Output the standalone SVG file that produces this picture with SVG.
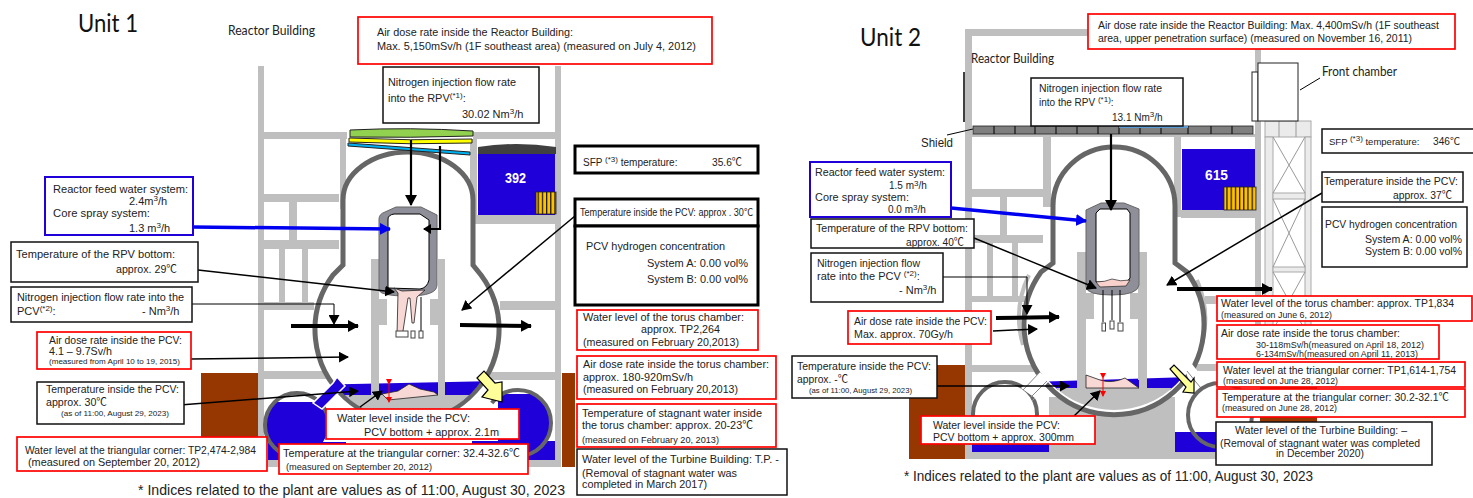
<svg xmlns="http://www.w3.org/2000/svg" width="1473" height="498" viewBox="0 0 1473 498">
<style>
text{font-family:"Liberation Sans","Noto Sans CJK JP",sans-serif;font-size:11px;fill:#222}
.s{font-size:8px}.m{font-size:10px}.n{font-size:9px}.f{font-size:9.5px}
.lato{font-family:Lato,"Liberation Sans",sans-serif;font-size:12.5px}
.ttl{font-family:Lato,"Liberation Sans",sans-serif;font-size:25px;fill:#111}
.foot{font-size:15px}
.num{font-size:15px;font-weight:bold;fill:#fff;font-family:"Liberation Sans",sans-serif}
.w{fill:#bfbfbf}.blue{fill:#2000d8}.brown{fill:#963600}
.pcv{fill:#fff;stroke:#666;stroke-width:5}
.halo{fill:none;stroke:#bfbfbf;stroke-width:4}
.rpv{fill:#8f8f99;stroke:#666;stroke-width:1}
.in{fill:#fff;stroke:#000;stroke-width:1}
.pink{fill:#f8d8d4;stroke:#222;stroke-width:.8}
.crd{fill:#fff;stroke:#444;stroke-width:1}
.yl{fill:#ffff99;stroke:#000;stroke-width:1.2}
.tw{fill:#ebebeb;stroke:#aaa;stroke-width:1}
.x{stroke:#999;stroke-width:1;fill:none}
.fuel{fill:url(#st);stroke:#222;stroke-width:.8}
.rb,.kb,.bb,.kk{fill:#fff}
.rb{stroke:#f00;stroke-width:1.7}
.kb{stroke:#111;stroke-width:1.5}
.kk{stroke:#000;stroke-width:3}
.bb{stroke:#2000d8;stroke-width:2}
.c{fill:none;stroke:#000;stroke-width:1.5}
.cs{fill:none;stroke:#000;stroke-width:1}
.ct{fill:none;stroke:#000;stroke-width:4}
.cb{fill:none;stroke:#0000f0;stroke-width:3.5}
.cr{fill:none;stroke:#f00;stroke-width:1}
.a{marker-end:url(#ah)}.al{marker-end:url(#ahl)}.ab{marker-end:url(#ahb)}
</style>
<defs>
<pattern id="st" width="4.2" height="10" patternUnits="userSpaceOnUse"><rect width="4.2" height="10" fill="#ffc000"/><rect width="1.2" height="10" fill="#111"/></pattern>
<marker id="ah" markerUnits="userSpaceOnUse" markerWidth="10" markerHeight="11" refX="9" refY="5.5" orient="auto"><path d="M0,0L10,5.5L0,11z"/></marker>
<marker id="ahl" markerUnits="userSpaceOnUse" markerWidth="11" markerHeight="12" refX="10" refY="6" orient="auto"><path d="M0,0L11,6L0,12z"/></marker>
<marker id="ahb" markerUnits="userSpaceOnUse" markerWidth="11" markerHeight="12" refX="10" refY="6" orient="auto"><path d="M0,0L11,6L0,12z" fill="#0000f0"/></marker>
<marker id="ahr" markerUnits="userSpaceOnUse" markerWidth="6" markerHeight="6" refX="5" refY="3" orient="auto"><path d="M0,0L6,3L0,6z" fill="#f00"/></marker>
<clipPath id="c1"><circle cx="407" cy="330" r="90"/></clipPath>
<clipPath id="c1l"><circle cx="297" cy="425" r="31"/><rect x="268" y="442" width="78" height="18"/></clipPath>
<clipPath id="c1r"><circle cx="518" cy="423" r="32"/></clipPath>
<clipPath id="c2"><circle cx="1114" cy="322" r="88"/></clipPath>
</defs>

<g id="unit1-structure">
<rect class="w" x="258" y="66" width="6" height="401"/><rect class="w" x="555" y="66" width="6" height="401"/>
<rect class="w" x="264" y="132" width="83" height="7"/><rect class="w" x="473" y="132" width="82" height="7"/>
<rect class="w" x="340" y="139" width="6" height="70"/><rect class="w" x="470" y="139" width="7" height="85"/>
<rect class="w" x="264" y="194" width="75" height="8"/><rect class="w" x="289" y="202" width="8" height="38"/>
<rect class="w" x="264" y="240" width="75" height="9"/>
<rect class="w" x="279" y="249" width="6" height="53"/><rect class="w" x="302" y="249" width="6" height="53"/>
<rect class="w" x="264" y="302" width="50" height="8"/><rect class="w" x="264" y="371" width="70" height="8"/>
<rect class="w" x="477" y="215" width="78" height="9"/><rect class="w" x="500" y="301" width="55" height="9"/><rect class="w" x="490" y="372" width="65" height="8"/>
<rect class="w" x="258" y="460" width="303" height="7"/>
<rect class="brown" x="201" y="373" width="57" height="70"/><rect class="brown" x="562" y="373" width="13" height="94"/>
<path d="M478,154V147Q516,141 556,147V154z" fill="#404040"/>
<rect class="blue" x="478" y="154" width="77" height="61"/>
<rect class="fuel" x="536" y="192" width="20" height="22"/>
<text class="num" x="505" y="183" textLength="21" lengthAdjust="spacingAndGlyphs">392</text>
<path class="halo" d="M329,290A96,96 0 0 0 333,378M485,280A96,96 0 0 1 490,372"/>
<path class="pcv" d="M333,275L343,265V200A65,48 0 0 1 473,200V265L481,275A92,92 0 1 1 333,275z"/>
<g clip-path="url(#c1)"><path class="blue" d="M310,385L500,381V400H310z"/><rect class="w" x="310" y="395" width="190" height="40"/></g>
<rect class="w" x="371" y="259" width="8" height="136"/><rect class="w" x="438" y="259" width="7" height="136"/>
<rect class="w" x="378" y="299" width="9" height="26"/><rect class="w" x="430" y="299" width="8" height="26"/>
<path class="rpv" d="M379,290V219Q379,214 385,212L396,207H421L437,215V285Q437,296 408,296Q380,296 379,290z"/>
<path class="in" d="M388,288V219Q388,215 394,214H420L429,220V280Q427,288 420,289z"/>
<path class="pink" d="M394,288L402,291L425,290L417,297L414,323H412L410,298L408,298L403,331L397,335L398,293z"/>
<line x1="421" y1="297" x2="421" y2="331" class="cs"/>
<rect class="crd" x="396" y="331" width="12" height="6"/><rect class="crd" x="411" y="331" width="4" height="7"/><rect class="crd" x="419" y="331" width="4" height="7"/>
<path class="pink" d="M388,400L382,394L398,391L409,384L420,389L434,392L438,395z"/>
<g clip-path="url(#c1l)"><rect class="blue" x="262" y="402" width="90" height="60"/></g>
<circle cx="297" cy="425" r="32" fill="none" stroke="#666" stroke-width="4" stroke-dasharray="150 51" stroke-dashoffset="-52"/>
<path d="M333,383L337,377L345,386L322,409L313,403z" fill="#2000d8" stroke="#fff" stroke-width="1.5"/>
<g clip-path="url(#c1r)"><rect class="blue" x="498" y="394" width="60" height="70"/></g>
<rect class="blue" x="472" y="441" width="83" height="19"/>
<circle cx="518" cy="423" r="33" fill="none" stroke="#666" stroke-width="4" stroke-dasharray="135 72" stroke-dashoffset="82"/>
<path class="yl" d="M477,378L484,371L495,383L502,382V402L482,397L488,390z"/>
<path d="M350,130Q410,127 473,131V136Q410,138 350,137z" fill="#92d050" stroke="#222" stroke-width="1"/>
<path d="M349,138Q410,141 472,139V143Q410,145 349,142z" fill="#ff0" stroke="#222" stroke-width="1"/>
<path d="M348,143L470,152V155L348,146z" fill="#00b0f0" stroke="#222" stroke-width="1"/>
</g>

<g id="unit2-structure">
<rect class="w" x="965" y="29" width="7" height="430"/><rect class="w" x="965" y="29" width="295" height="7"/>
<rect class="w" x="1255" y="36" width="6" height="300"/>
<rect class="brown" x="909" y="365" width="56" height="94"/><rect class="brown" x="1260" y="386" width="57" height="40"/>
<rect class="w" x="972" y="134" width="283" height="3"/>
<rect class="w" x="1043" y="137" width="8" height="70"/><rect class="w" x="1174" y="137" width="7" height="80"/>
<rect class="w" x="972" y="189" width="71" height="8"/><rect class="w" x="1000" y="197" width="7" height="38"/>
<rect class="w" x="972" y="235" width="71" height="8"/><rect class="w" x="987" y="243" width="6" height="53"/><rect class="w" x="1012" y="243" width="6" height="53"/>
<rect class="w" x="972" y="296" width="58" height="6"/><rect class="w" x="972" y="365" width="68" height="7"/>
<rect class="w" x="1181" y="210" width="74" height="8"/><rect class="w" x="1205" y="296" width="50" height="8"/><rect class="w" x="1190" y="364" width="65" height="7"/>
<rect class="blue" x="1182" y="149" width="73" height="61"/>
<rect class="fuel" x="1224" y="187" width="32" height="23"/>
<text class="num" x="1205" y="180" textLength="23" lengthAdjust="spacingAndGlyphs">615</text>
<rect class="w" x="1049" y="397" width="126" height="62"/><rect class="w" x="972" y="452" width="300" height="7"/>
<path class="halo" d="M1029,275A97,97 0 0 0 1023,345M1197,280A97,97 0 0 1 1200,350"/>
<path class="pcv" d="M1041,272L1053,263V206A61,59 0 0 1 1175,206V263L1187,272A90,90 0 1 1 1041,272z"/>
<g clip-path="url(#c2)"><path class="blue" d="M1030,382L1190,377V390H1030z"/><rect class="w" x="1020" y="388" width="190" height="40"/></g>
<rect class="w" x="1077" y="252" width="9" height="136"/><rect class="w" x="1138" y="252" width="9" height="136"/>
<rect class="w" x="1086" y="293" width="8" height="26"/><rect class="w" x="1130" y="293" width="8" height="26"/>
<rect class="blue" x="1086" y="380" width="53" height="8"/>
<path class="rpv" d="M1086,287V210L1101,203H1124L1139,209V285Q1138,295 1112,295Q1087,295 1086,287z"/>
<path class="in" d="M1096,282V213L1100,209H1127L1130,213V278L1126,283z"/>
<path d="M1096,282Q1105,282 1112,279Q1120,282 1130,280L1126,286L1100,287z" fill="#f8d0cc" stroke="#222" stroke-width=".7"/>
<path class="cs" d="M1103,290V322M1112,290V320M1120,290V322"/>
<rect class="crd" x="1102" y="323" width="3.5" height="8"/><rect class="crd" x="1110" y="321" width="4" height="8"/><rect class="crd" x="1118" y="323" width="5" height="8"/>
<path class="pink" d="M1086,375L1100,380Q1112,384 1125,378L1139,388H1086z"/>
<circle cx="1005" cy="414" r="32" fill="#fff" stroke="#666" stroke-width="4"/>
<rect class="blue" x="972" y="443" width="77" height="9"/>
<path d="M1035,398L1021,388L1040,372L1049,381L1031,402z" fill="#fff" stroke="none"/>
<path d="M1023,390L1040,372M1030,398L1047,381" stroke="#888" stroke-width="1" fill="none"/>
<rect class="blue" x="1175" y="432" width="45" height="20"/>
<path d="M1188,413L1194,395L1185,370L1192,364L1207,383L1200,392z" fill="#fff"/>
<path d="M1187,371L1200,387" stroke="#888"/>
<circle cx="1220" cy="415" r="32" fill="none" stroke="#666" stroke-width="4"/>
<path class="yl" d="M1170,369L1174,365L1191,382L1194,378V393L1183,392L1186,387z"/>
<rect class="tw" x="1265" y="121" width="46" height="16"/><path class="x" d="M1279,121V137M1296,121V137"/>
<rect class="tw" x="1265" y="137" width="8" height="200"/><rect class="tw" x="1305" y="137" width="6" height="200"/>
<rect class="tw" x="1273" y="193" width="32" height="6"/><rect class="tw" x="1273" y="267" width="32" height="5"/>
<path class="x" d="M1273,137L1305,193M1305,137L1273,193M1273,199L1305,267M1305,199L1273,267M1273,272L1305,330M1305,272L1273,330"/>
<rect x="1252" y="72" width="6" height="49" fill="#fff" stroke="#222"/><rect x="1258" y="63" width="40" height="58" fill="#fff" stroke="#222"/>
<path class="cs" d="M1300,90L1320,78"/>
<path d="M964,72V122" stroke="#000" stroke-width="1.5"/>
<path class="cs" d="M947,135L973,129"/>
<rect x="973" y="126" width="280" height="8" fill="#7f7f7f" stroke="#222" stroke-width=".8"/>
<path class="cs" d="M994,126V134M1015,126V134M1035,126V134M1056,126V134M1077,126V134M1098,126V134M1119,126V134M1140,126V134M1161,126V134M1188,126V134M1211,126V134M1232,126V134"/>
<rect x="1119" y="126" width="69" height="2" fill="#5b9bd5"/>
</g>

<g id="connectors">
<path class="c al" style="stroke-width:2.2" d="M411,140V205"/>
<path class="c" style="stroke-width:2.2" d="M440,146V229H424"/><path d="M423,229L431,224V234z"/>
<path class="cb ab" d="M193,227L390,229"/>
<path class="c a" d="M198,270L394,292"/>
<path class="cs a" d="M192,304H334V324"/>
<path class="ct al" d="M291,326H358"/>
<path class="c a" d="M191,359L348,357"/>
<path class="c a" d="M180,405L358,391"/>
<path class="c a" d="M575,216L462,310"/>
<path class="ct al" d="M460,325L531,326"/>
<path class="c a" d="M360,407L382,391"/>
<path class="cr" style="marker-start:url(#ahr);marker-end:url(#ahr)" d="M389,384V402"/>
<path class="c al" style="stroke-width:2.2" d="M1111,134V210"/>
<path class="cb ab" d="M951,208L1086,221"/>
<path class="c a" d="M974,238L1096,288"/>
<path class="cs a" d="M943,277H1027V314"/>
<path class="ct al" d="M996,318L1059,317"/>
<path class="c a" d="M993,331L1037,329"/>
<path class="c a" d="M937,386L1069,386"/>
<path class="c a" d="M1074,416L1100,391"/>
<path class="cr" style="marker-start:url(#ahr);marker-end:url(#ahr)" d="M1103,378V396"/>
<path class="c a" d="M1322,193L1167,285"/>
<path class="ct al" d="M1177,289H1272"/>
</g>

<g id="u1-title"><text class="ttl" x="78" y="32" textLength="60" lengthAdjust="spacingAndGlyphs">Unit 1</text></g>
<g id="u1-rb-label"><text class="lato" x="228" y="35" textLength="87" lengthAdjust="spacingAndGlyphs">Reactor Building</text></g>
<g id="u1-dose-rb"><rect class="rb" x="358" y="17" width="354" height="47"/><text x="377" y="36" textLength="196" lengthAdjust="spacingAndGlyphs">Air dose rate inside the Reactor Building:</text><text x="377" y="50" textLength="319" lengthAdjust="spacingAndGlyphs">Max. 5,150mSv/h (1F southeast area) (measured on July 4, 2012)</text></g>
<g id="u1-n2-rpv"><rect class="kb" x="383" y="67" width="156" height="56"/><text x="388" y="86" textLength="128" lengthAdjust="spacingAndGlyphs">Nitrogen injection flow rate</text><text x="388" y="102">into the RPV<tspan class="s" dy="-4">(*1)</tspan><tspan dy="4">:</tspan></text><text x="462" y="118">30.02 Nm<tspan class="s" dy="-4">3</tspan><tspan dy="4">/h</tspan></text></g>
<g id="u1-sfp"><rect class="kk" x="575" y="146" width="183" height="27"/><text class="m" x="583" y="166">SFP <tspan class="s" dy="-4">(*3)</tspan><tspan dy="4"> temperature:</tspan></text><text x="712" y="166" textLength="30" lengthAdjust="spacingAndGlyphs">35.6℃</text></g>
<g id="u1-temp-pcv"><rect class="kk" x="575" y="199" width="183" height="27"/><text class="m" x="580" y="216" textLength="173" lengthAdjust="spacingAndGlyphs">Temperature  inside the PCV:  approx . 30℃</text></g>
<g id="u1-h2"><rect class="kk" x="575" y="226" width="183" height="79"/><text x="586" y="250" textLength="139" lengthAdjust="spacingAndGlyphs">PCV hydrogen concentration</text><text x="647" y="267" textLength="101" lengthAdjust="spacingAndGlyphs">System A: 0.00 vol%</text><text x="647" y="283" textLength="101" lengthAdjust="spacingAndGlyphs">System B: 0.00 vol%</text></g>
<g id="u1-torus-level"><rect class="rb" x="577" y="310" width="181" height="40"/><text x="583" y="321" textLength="161" lengthAdjust="spacingAndGlyphs">Water level of the torus chamber:</text><text x="641" y="333" textLength="79" lengthAdjust="spacingAndGlyphs">approx. TP2,264</text><text x="583" y="346" textLength="156" lengthAdjust="spacingAndGlyphs">(measured on February 20,2013)</text></g>
<g id="u1-torus-dose"><rect class="rb" x="577" y="356" width="199" height="43"/><text x="583" y="368" textLength="186" lengthAdjust="spacingAndGlyphs">Air dose rate inside the torus chamber:</text><text x="583" y="381" textLength="110" lengthAdjust="spacingAndGlyphs">approx. 180-920mSv/h</text><text x="583" y="393" textLength="155" lengthAdjust="spacingAndGlyphs">(measured on February 20,2013)</text></g>
<g id="u1-torus-temp"><rect class="rb" x="577" y="404" width="199" height="43"/><text x="582" y="417" textLength="180" lengthAdjust="spacingAndGlyphs">Temperature of stagnant water inside</text><text x="582" y="429" textLength="171" lengthAdjust="spacingAndGlyphs">the torus chamber: approx. 20-23℃</text><text class="n" x="582" y="443" textLength="137" lengthAdjust="spacingAndGlyphs">(measured on February 20, 2013)</text></g>
<g id="u1-turbine"><rect class="kb" x="577" y="449" width="210" height="46"/><text x="582" y="463" textLength="197" lengthAdjust="spacingAndGlyphs">Water level of the Turbine Building: T.P. -</text><text x="582" y="477" textLength="155" lengthAdjust="spacingAndGlyphs">(Removal of stagnant water was</text><text x="582" y="488" textLength="125" lengthAdjust="spacingAndGlyphs">completed in March 2017)</text></g>
<g id="u1-feed"><rect class="bb" x="45" y="177" width="148" height="58"/><text x="53" y="193" textLength="135" lengthAdjust="spacingAndGlyphs">Reactor feed water system:</text><text x="129" y="205">2.4m<tspan class="s" dy="-4">3</tspan><tspan dy="4">/h</tspan></text><text x="53" y="217" textLength="97" lengthAdjust="spacingAndGlyphs">Core spray system:</text><text x="129" y="232">1.3 m<tspan class="s" dy="-4">3</tspan><tspan dy="4">/h</tspan></text></g>
<g id="u1-rpv-bottom"><rect class="kb" x="11" y="242" width="187" height="40"/><text x="16" y="258" textLength="159" lengthAdjust="spacingAndGlyphs">Temperature of the RPV bottom:</text><text x="116" y="273" textLength="61" lengthAdjust="spacingAndGlyphs">approx. 29℃</text></g>
<g id="u1-n2-pcv"><rect class="kb" x="11" y="287" width="181" height="35"/><text x="17" y="301" textLength="167" lengthAdjust="spacingAndGlyphs">Nitrogen injection flow rate into the</text><text x="17" y="315">PCV<tspan class="s" dy="-4">(*2)</tspan><tspan dy="4">:</tspan></text><text x="142" y="315">- Nm<tspan class="s" dy="-4">3</tspan><tspan dy="4">/h</tspan></text></g>
<g id="u1-dose-pcv"><rect class="rb" x="37" y="332" width="154" height="37"/><text x="49" y="344" textLength="133" lengthAdjust="spacingAndGlyphs">Air dose rate inside the PCV:</text><text x="49" y="355" textLength="63" lengthAdjust="spacingAndGlyphs">4.1 – 9.7Sv/h</text><text class="s" x="49" y="364" textLength="131" lengthAdjust="spacingAndGlyphs">(measured from April 10 to 19, 2015)</text></g>
<g id="u1-temp-pcv2"><rect class="kb" x="37" y="382" width="147" height="42"/><text x="46" y="393" textLength="133" lengthAdjust="spacingAndGlyphs">Temperature inside the PCV:</text><text x="46" y="406" textLength="61" lengthAdjust="spacingAndGlyphs">approx. 30℃</text><text class="s" x="61" y="416" textLength="108" lengthAdjust="spacingAndGlyphs">(as of 11:00, August 29, 2023)</text></g>
<g id="u1-tri-level"><rect class="rb" x="17" y="437" width="250" height="34"/><text x="25" y="454" textLength="231" lengthAdjust="spacingAndGlyphs">Water level at the triangular corner: TP2,474-2,984</text><text x="28" y="466" textLength="172" lengthAdjust="spacingAndGlyphs">(measured on September 20, 2012)</text></g>
<g id="u1-tri-temp"><rect class="rb" x="279" y="444" width="249" height="30"/><text x="283" y="457" textLength="237" lengthAdjust="spacingAndGlyphs">Temperature at the triangular corner: 32.4-32.6℃</text><text class="n" x="286" y="470" textLength="146" lengthAdjust="spacingAndGlyphs">(measured on September 20, 2012)</text></g>
<g id="u1-level-pcv"><rect class="rb" x="326" y="409" width="193" height="30"/><text x="337" y="422" textLength="133" lengthAdjust="spacingAndGlyphs">Water level inside the PCV:</text><text x="364" y="436" textLength="135" lengthAdjust="spacingAndGlyphs">PCV bottom + approx. 2.1m</text></g>
<g id="u1-note"><text class="foot" x="138" y="495" textLength="427" lengthAdjust="spacingAndGlyphs">* Indices related to the plant are values as of 11:00, August 30, 2023</text></g>

<g id="u2-title"><text class="ttl" x="860" y="46" textLength="61" lengthAdjust="spacingAndGlyphs">Unit 2</text></g>
<g id="u2-rb-label"><text class="lato" x="971" y="63" textLength="83" lengthAdjust="spacingAndGlyphs">Reactor Building</text></g>
<g id="u2-shield-label"><text x="921" y="147" style="font-size:12px" textLength="32" lengthAdjust="spacingAndGlyphs">Shield</text></g>
<g id="u2-front-label"><text class="lato" x="1322" y="76" textLength="75" lengthAdjust="spacingAndGlyphs">Front chamber</text></g>
<g id="u2-dose-rb"><rect class="rb" x="1088" y="14" width="367" height="35"/><text class="m" x="1098" y="29" textLength="341" lengthAdjust="spacingAndGlyphs">Air dose rate inside the Reactor Building:  Max. 4,400mSv/h (1F southeast</text><text class="m" x="1098" y="42" textLength="314" lengthAdjust="spacingAndGlyphs">area, upper penetration surface) (measured on November 16, 2011)</text></g>
<g id="u2-n2-rpv"><rect class="kb" x="1031" y="78" width="152" height="48"/><text class="m" x="1039" y="92" textLength="123" lengthAdjust="spacingAndGlyphs">Nitrogen injection flow rate</text><text class="m" x="1039" y="106">into the RPV <tspan class="s" dy="-4">(*1)</tspan><tspan dy="4">:</tspan></text><text class="m" x="1112" y="121">13.1 Nm<tspan class="s" dy="-4">3</tspan><tspan dy="4">/h</tspan></text></g>
<g id="u2-feed"><rect class="bb" x="810" y="162" width="141" height="55"/><text class="m" x="815" y="176" textLength="130" lengthAdjust="spacingAndGlyphs">Reactor feed water system:</text><text class="m" x="889" y="189">1.5 m<tspan class="s" dy="-3">3</tspan><tspan dy="3">/h</tspan></text><text class="m" x="815" y="201" textLength="94" lengthAdjust="spacingAndGlyphs">Core spray system:</text><text class="m" x="888" y="213">0.0 m<tspan class="s" dy="-3">3</tspan><tspan dy="3">/h</tspan></text></g>
<g id="u2-rpv-bottom"><rect class="kb" x="811" y="219" width="163" height="29"/><text x="816" y="232" textLength="152" lengthAdjust="spacingAndGlyphs">Temperature of the RPV bottom:</text><text x="906" y="246" textLength="58" lengthAdjust="spacingAndGlyphs">approx. 40℃</text></g>
<g id="u2-n2-pcv"><rect class="kb" x="811" y="253" width="132" height="49"/><text x="817" y="267" textLength="103" lengthAdjust="spacingAndGlyphs">Nitrogen injection flow</text><text x="817" y="280">rate into the PCV <tspan class="s" dy="-4">(*2)</tspan><tspan dy="4">:</tspan></text><text x="899" y="294">- Nm<tspan class="s" dy="-4">3</tspan><tspan dy="4">/h</tspan></text></g>
<g id="u2-dose-pcv"><rect class="rb" x="848" y="311" width="143" height="33"/><text x="854" y="325" textLength="133" lengthAdjust="spacingAndGlyphs">Air dose rate inside the PCV:</text><text x="854" y="338" textLength="99" lengthAdjust="spacingAndGlyphs">Max. approx. 70Gy/h</text></g>
<g id="u2-temp-pcv2"><rect class="kb" x="792" y="356" width="145" height="42"/><text x="797" y="370" textLength="134" lengthAdjust="spacingAndGlyphs">Temperature inside the PCV:</text><text x="797" y="383" textLength="51" lengthAdjust="spacingAndGlyphs">approx. -℃</text><text class="s" x="809" y="393" textLength="103" lengthAdjust="spacingAndGlyphs">(as of 11:00, August 29, 2023)</text></g>
<g id="u2-level-pcv"><rect class="rb" x="921" y="416" width="174" height="28"/><text x="933" y="429" textLength="127" lengthAdjust="spacingAndGlyphs">Water level inside the PCV:</text><text x="933" y="441" textLength="141" lengthAdjust="spacingAndGlyphs">PCV bottom + approx. 300mm</text></g>
<g id="u2-sfp"><rect class="kb" x="1322" y="129" width="160" height="24"/><text class="f" x="1329" y="145">SFP <tspan class="s" dy="-4">(*3)</tspan><tspan dy="4"> temperature:</tspan></text><text class="m" x="1433" y="145" textLength="27" lengthAdjust="spacingAndGlyphs">346℃</text></g>
<g id="u2-temp-pcv"><rect class="kb" x="1322" y="172" width="141" height="30"/><text x="1324" y="185" textLength="134" lengthAdjust="spacingAndGlyphs">Temperature inside the PCV:</text><text x="1393" y="199" textLength="59" lengthAdjust="spacingAndGlyphs">approx. 37℃</text></g>
<g id="u2-h2"><rect class="kb" x="1322" y="207" width="145" height="60"/><text x="1325" y="228" textLength="132" lengthAdjust="spacingAndGlyphs">PCV hydrogen concentration</text><text x="1365" y="243" textLength="97" lengthAdjust="spacingAndGlyphs">System A: 0.00 vol%</text><text x="1365" y="255" textLength="97" lengthAdjust="spacingAndGlyphs">System B: 0.00 vol%</text></g>
<g id="u2-torus-level"><rect class="rb" x="1217" y="296" width="255" height="25"/><text x="1221" y="307" textLength="233" lengthAdjust="spacingAndGlyphs">Water level of the torus chamber: approx. TP1,834</text><text class="n" x="1221" y="318" textLength="111" lengthAdjust="spacingAndGlyphs">(measured on June 6, 2012)</text></g>
<g id="u2-torus-dose"><rect class="rb" x="1217" y="325" width="222" height="34"/><text x="1221" y="337" textLength="179" lengthAdjust="spacingAndGlyphs">Air dose rate inside the torus chamber:</text><text class="n" x="1256" y="348" textLength="168" lengthAdjust="spacingAndGlyphs">30-118mSv/h(measured  on April 18, 2012)</text><text class="n" x="1256" y="357" textLength="162" lengthAdjust="spacingAndGlyphs">6-134mSv/h(measured  on April 11, 2013)</text></g>
<g id="u2-tri-level"><rect class="rb" x="1217" y="362" width="248" height="25"/><text x="1223" y="374" textLength="233" lengthAdjust="spacingAndGlyphs">Water level at the triangular corner: TP1,614-1,754</text><text class="n" x="1223" y="384" textLength="115" lengthAdjust="spacingAndGlyphs">(measured on June 28, 2012)</text></g>
<g id="u2-tri-temp"><rect class="rb" x="1217" y="389" width="248" height="28"/><text x="1222" y="401" textLength="227" lengthAdjust="spacingAndGlyphs">Temperature at the triangular corner: 30.2-32.1℃</text><text class="n" x="1222" y="411" textLength="115" lengthAdjust="spacingAndGlyphs">(measured on June 28, 2012)</text></g>
<g id="u2-turbine"><rect class="kb" x="1216" y="422" width="216" height="43"/><text x="1235" y="434" textLength="172" lengthAdjust="spacingAndGlyphs">Water level of the Turbine Building: –</text><text x="1220" y="447" textLength="200" lengthAdjust="spacingAndGlyphs">(Removal of stagnant water was completed</text><text x="1276" y="457" textLength="88" lengthAdjust="spacingAndGlyphs">in December 2020)</text></g>
<g id="u2-note"><text class="foot" x="904" y="481" textLength="409" lengthAdjust="spacingAndGlyphs">* Indices related to the plant are values as of 11:00, August 30, 2023</text></g>
</svg>
